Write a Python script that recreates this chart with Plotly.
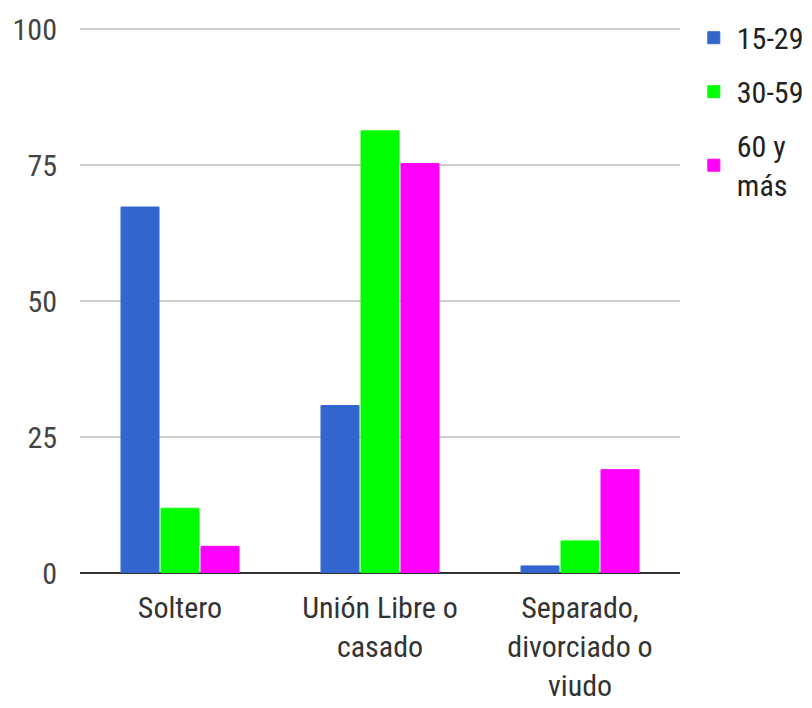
import plotly.graph_objects as go

# Estado civil por grupo de edad (%)
categories = ["Soltero", "Unión Libre o<br>casado", "Separado,<br>divorciado o<br>viudo"]
series_names = ["15-29", "30-59", "60 y<br>más"]
values_15_29 = [67.3, 30.8, 1.3]
values_30_59 = [11.9, 81.3, 5.9]
values_60_mas = [4.9, 75.3, 19.0]
colors = ["#3366cc", "#00ff00", "#ff00ff"]
y_ticks = [0, 25, 50, 75, 100]

FONT = "Liberation Sans Narrow, Roboto Condensed, Arial Narrow, Roboto, sans-serif"

fig = go.Figure()
for i, (name, vals, col) in enumerate(zip(series_names, [values_15_29, values_30_59, values_60_mas], colors)):
    fig.add_trace(go.Bar(
        x=categories, y=vals, name=name, legendgroup=f"g{i}",
        marker=dict(color=col, line=dict(color=col, width=1)),
    ))

fig.update_layout(
    width=812, height=708,
    margin=dict(l=80, r=132, t=27, b=135, autoexpand=False),
    paper_bgcolor="white", plot_bgcolor="white",
    barmode="group", bargap=0.4, bargroupgap=0.05,
    font=dict(family=FONT, size=30, color="#444444"),
    legend=dict(x=1.018, y=1.028, xanchor="left", yanchor="top",
                font=dict(size=30, color="#222222"), tracegroupgap=12,
                itemwidth=36),
    xaxis=dict(showgrid=False, showline=False, ticks="",
               tickfont=dict(size=30, color="#333333"), ticklabelstandoff=14),
    yaxis=dict(range=[0, 100.4], tickvals=y_ticks, showgrid=True,
               gridcolor="#cccccc", gridwidth=2, zeroline=True,
               zerolinecolor="#333333", zerolinewidth=2, showline=False,
               tickfont=dict(size=30, color="#444444"), ticklabelstandoff=22),
)

fig.write_html("out.html")
